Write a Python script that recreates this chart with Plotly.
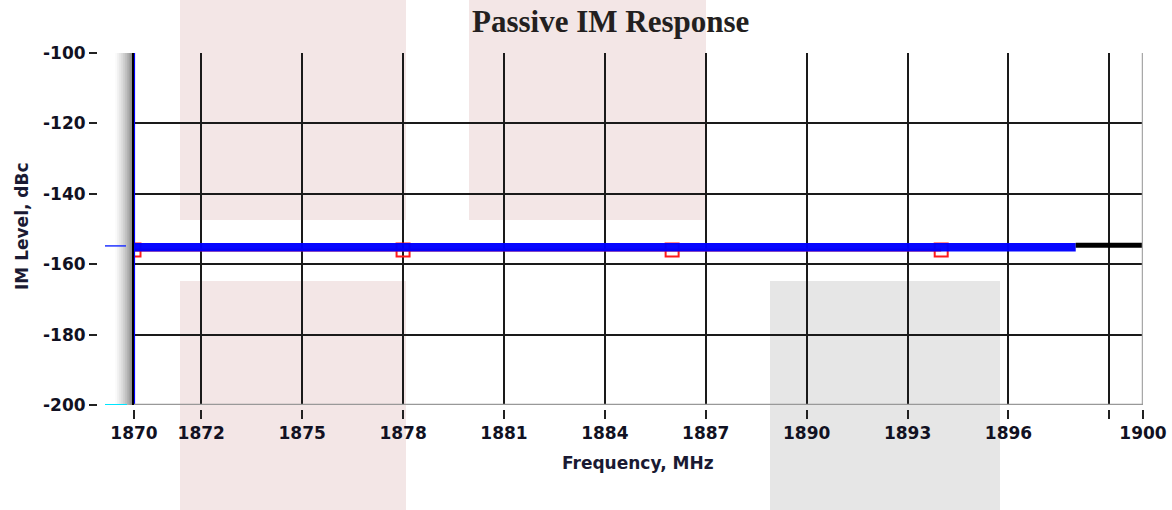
import plotly.graph_objects as go

# ---- data ----
x_tick_vals = [1870, 1872, 1875, 1878, 1881, 1884, 1887, 1890, 1893, 1896, 1899, 1900]
x_tick_text = ["1870", "1872", "1875", "1878", "1881", "1884", "1887", "1890", "1893", "1896", "", "1900"]
y_tick_vals = [-100, -120, -140, -160, -180, -200]
y_tick_text = ["-100", "-120", "-140", "-160", "-180", "-200"]

red_freq = [1870, 1878, 1886, 1894]
red_level = [-156.0, -156.0, -156.0, -156.0]
blue_freq = [1870, 1898]
blue_level = [-155.2, -155.2]
black_freq = [1898, 1900]
black_level = [-154.6, -154.6]
cursor_freq = [1870, 1870]
cursor_level = [-100, -200]
marker_ref_level = [-154.8]

W, H = 1172, 510
def px(v):
    return v / W
def py(v):
    return (H - v) / H

X0, X1 = 1870, 1900
Y0, Y1 = -200, -100

fig = go.Figure()

fig.add_trace(go.Scatter(x=red_freq, y=red_level, mode="lines+markers",
                         line=dict(color="#ff1a1a", width=3),
                         marker=dict(symbol="square-open", size=13, color="#ff1a1a", line=dict(width=2)),
                         showlegend=False))
fig.add_trace(go.Scatter(x=blue_freq, y=blue_level, mode="lines",
                         line=dict(color="#0000ff", width=8.5), opacity=0.97, showlegend=False))
fig.add_trace(go.Scatter(x=black_freq, y=black_level, mode="lines",
                         line=dict(color="#000000", width=5), showlegend=False))

shapes = []
# background decorative blocks
pink = "#f3e6e6"
grey = "#e6e6e6"
for (a, b, c, d, col) in [(180, 406, 0, 220, pink), (469, 706, 0, 220, pink),
                          (180, 406, 281, 510, pink), (770, 1000, 281, 510, grey)]:
    shapes.append(dict(type="rect", xref="paper", yref="paper", x0=px(a), x1=px(b),
                       y0=py(d), y1=py(c), fillcolor=col, line=dict(width=0), layer="below"))
# gradient strip left of plot
grad_cols = ["#fbfbfb", "#f2f2f2", "#e8e8e8", "#dddddd", "#d0d0d0", "#c2c2c2", "#b3b3b3", "#a2a2a2", "#909090"]
gx0, gx1 = 115, 132
step = (gx1 - gx0) / len(grad_cols)
for i, col in enumerate(grad_cols):
    shapes.append(dict(type="rect", xref="paper", yref="y", x0=px(gx0 + i * step), x1=px(gx0 + (i + 1) * step + 0.3),
                       y0=Y0, y1=Y1 + 0.8, fillcolor=col, line=dict(width=0), layer="below"))
# borders
shapes.append(dict(type="line", xref="x", yref="y", x0=X1, x1=X1, y0=Y0, y1=Y1,
                   line=dict(color="#a8a8a8", width=2.5), layer="above"))
shapes.append(dict(type="line", xref="x", yref="y", x0=X0, x1=X1, y0=Y0, y1=Y0,
                   line=dict(color="#999999", width=2.5), layer="above"))
shapes.append(dict(type="line", xref="paper", yref="y", x0=px(133), x1=px(133), y0=Y0, y1=Y1,
                   line=dict(color="#000000", width=2), layer="above"))
# margin level indicators
shapes.append(dict(type="line", xref="paper", yref="y", x0=px(105), x1=px(126),
                   y0=marker_ref_level[0], y1=marker_ref_level[0],
                   line=dict(color="#2233ff", width=1.5), layer="above"))
shapes.append(dict(type="line", xref="paper", yref="y", x0=px(105), x1=px(127), y0=Y0, y1=Y0,
                   line=dict(color="#00e5ff", width=2), layer="above"))

fig.add_trace(go.Scatter(x=cursor_freq, y=cursor_level, mode="lines",
                         line=dict(color="#0000ff", width=2.2), cliponaxis=False, showlegend=False))

tick_font = dict(family="DejaVu Sans", size=17, color="#111122", weight="bold")

fig.update_layout(
    width=W, height=H,
    margin=dict(l=0, r=0, t=0, b=0),
    paper_bgcolor="white",
    plot_bgcolor="rgba(0,0,0,0)",
    shapes=shapes,
    xaxis=dict(domain=[px(134), px(1143)], range=[X0, X1], anchor="free", position=py(409),
               tickmode="array", tickvals=x_tick_vals, ticktext=x_tick_text,
               ticks="outside", ticklen=9, tickwidth=2, tickcolor="#222222",
               showgrid=True, gridcolor="#1a1a1a", gridwidth=2,
               showline=False, zeroline=False, tickfont=tick_font, automargin=False),
    yaxis=dict(domain=[py(405), py(53)], range=[Y0, Y1], anchor="free", position=px(97),
               tickmode="array", tickvals=y_tick_vals, ticktext=y_tick_text,
               ticks="outside", ticklen=8, tickwidth=2, tickcolor="#222222",
               showgrid=True, gridcolor="#1a1a1a", gridwidth=2,
               showline=False, zeroline=False, tickfont=tick_font, automargin=False),
    annotations=[
        dict(text="<b>Passive IM Response</b>", xref="paper", yref="paper", x=px(610), y=py(22),
             showarrow=False, xanchor="center", yanchor="middle",
             font=dict(family="Liberation Serif", size=31, color="#231f20")),
        dict(text="<b>Frequency, MHz</b>", xref="paper", yref="paper", x=px(638), y=py(463),
             showarrow=False, xanchor="center", yanchor="middle",
             font=dict(family="DejaVu Sans", size=17, color="#1a1a33")),
        dict(text="<b>IM Level, dBc</b>", xref="paper", yref="paper", x=px(22), y=py(226),
             showarrow=False, xanchor="center", yanchor="middle", textangle=-90,
             font=dict(family="DejaVu Sans", size=17, color="#1a1a33")),
    ],
)

fig.write_html("out.html", config={"displayModeBar": False},
               post_script="document.body.style.margin='0';document.body.style.overflow='hidden';")
